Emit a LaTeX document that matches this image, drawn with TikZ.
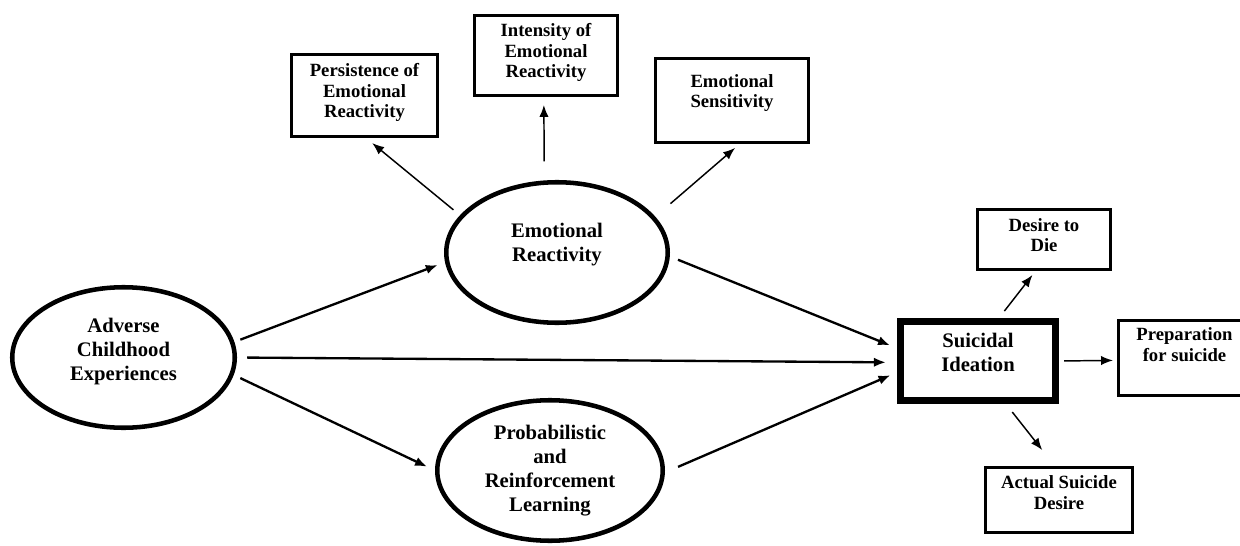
\documentclass[tikz,border=0pt]{standalone}
\usepackage{fontspec}
\setmainfont{Liberation Serif}
\usetikzlibrary{arrows.meta,shapes.geometric}
\newcommand{\mytext}[2][0pt]{\begin{tabular}{@{}c@{}}#2\\[#1]\end{tabular}}
\tikzset{
  boxfont/.style={font=\fontsize{14}{15.5}\selectfont\bfseries},
  bigfont/.style={font=\fontsize{15.5}{18}\selectfont\bfseries},
  indbox/.style={draw, rectangle, line width=2pt, inner sep=0pt, boxfont},
  latent/.style={draw, ellipse, line width=3.4pt, inner sep=0pt, bigfont},
  outbox/.style={draw, rectangle, line width=5pt, inner sep=0pt, bigfont},
  thinarrow/.style={line width=1.1pt, -{Latex[length=9pt,width=7pt]}},
  thickarrow/.style={line width=1.75pt, -{Latex[length=9pt,width=7pt]}}
}
\begin{document}
\begin{tikzpicture}[x=0.75pt, y=-0.75pt]
\useasboundingbox (0,0) rectangle (1240,546);
\clip (0,0) rectangle (1240,546);
\fill[white] (0,0) rectangle (1240,546);

% indicator boxes
\node[indbox, minimum width=109.7pt, minimum height=61.7pt] (pers) at (364.5,95.5)
  {\mytext[3.75pt]{Persistence of\\Emotional\\Reactivity}};
\node[indbox, minimum width=107.5pt, minimum height=60.2pt] (inten) at (546,55.5)
  {\mytext[3.75pt]{Intensity of\\Emotional\\Reactivity}};
\node[indbox, minimum width=115pt, minimum height=63.2pt] (sens) at (732,100.5)
  {\mytext[10.5pt]{Emotional\\Sensitivity}};

% latent variables
\node[latent, minimum width=166.1pt, minimum height=105.4pt] (er) at (557,252.5)
  {\mytext[12pt]{Emotional\\Reactivity}};
\node[latent, minimum width=166.9pt, minimum height=105.4pt] (adv) at (123.5,357.5)
  {\mytext[9pt]{Adverse\\Childhood\\Experiences}};
\node[latent, minimum width=169.1pt, minimum height=105.4pt] (prl) at (550,470.5)
  {\mytext{Probabilistic\\and\\Reinforcement\\Learning}};

% outcome
\node[outbox, minimum width=116.5pt, minimum height=59.5pt] (si) at (978,361)
  {\mytext[9pt]{Suicidal\\Ideation}};
\node[indbox, minimum width=100pt, minimum height=45.2pt] (desire) at (1044,239.5)
  {\mytext[3pt]{Desire to\\Die}};
\node[indbox, minimum width=99.2pt, minimum height=56.5pt] (prep) at (1184.5,358)
  {\mytext[16.5pt]{Preparation\\for suicide}};
\node[indbox, minimum width=110.5pt, minimum height=49pt] (actual) at (1059,500)
  {\mytext[7.5pt]{Actual Suicide\\Desire}};

% connectors
\draw[thinarrow, shorten <=6.4pt, shorten >=6pt] (er.159) -- (pers.-88);
\draw[thinarrow, shorten <=14.3pt, shorten >=6pt] (er.100) -- (inten.-93);
\draw[thinarrow, shorten <=15pt, shorten >=4.5pt] (er.20.5) -- (sens.-80);

\draw[thickarrow, shorten <=4.8pt, shorten >=5.8pt] (adv.8.4) -- (er.185);
\draw[thickarrow, shorten <=7.5pt, shorten >=8.3pt] (adv.0.7) -- (si.181.3);
\draw[thickarrow, shorten <=5.5pt, shorten >=6.6pt] (adv.-9.5) -- (prl.180);
\draw[thickarrow, shorten <=6.6pt, shorten >=5.6pt] (er.-2.1) -- (si.171.1);
\draw[thickarrow, shorten <=10.7pt, shorten >=5.3pt] (prl.-1.5) -- (si.188.9);

\draw[thinarrow, shorten <=6.6pt, shorten >=3.8pt] (si.64.4) -- (desire.-105.8);
\draw[thinarrow, shorten <=3.8pt, shorten >=3pt] (si.0) -- (prep.182.5);
\draw[thinarrow, shorten <=7.7pt, shorten >=15.2pt] (si.-57.2) -- (actual.97.4);
\end{tikzpicture}
\end{document}
